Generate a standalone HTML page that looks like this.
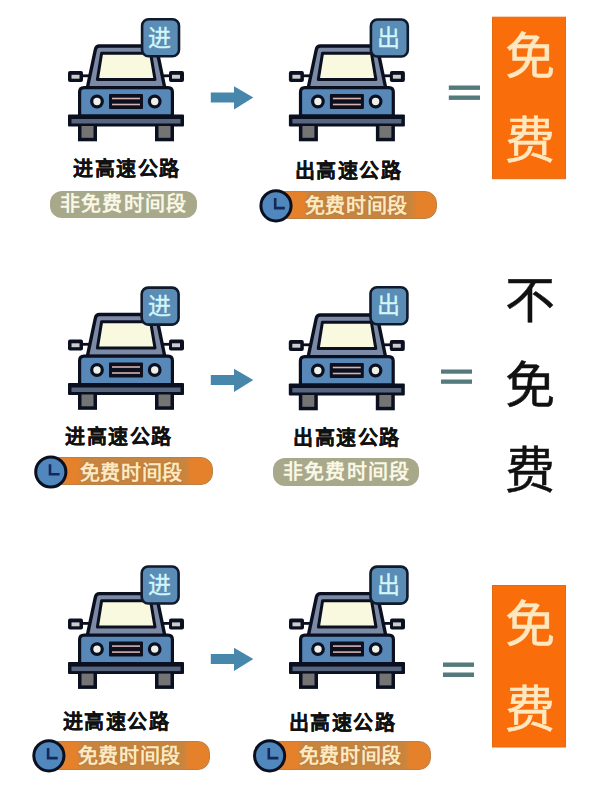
<!DOCTYPE html>
<html lang="zh-CN"><head><meta charset="utf-8">
<style>
html,body{margin:0;padding:0;background:#fff;}
body{width:600px;height:799px;position:relative;overflow:hidden;font-family:"Liberation Sans",sans-serif;}
svg.main{position:absolute;left:0;top:0;}
.t{position:absolute;white-space:nowrap;line-height:1;}
.lbl{font-size:20px;letter-spacing:1.5px;font-weight:bold;color:#111;-webkit-text-stroke:0.2px #111;}
.pill{position:absolute;border-radius:12px;}
.khaki{background:#a8a98a;}
.orange{background:#e1842f;border:1.5px solid #b98147;box-sizing:border-box;}
.ptxt{font-size:20px;font-weight:bold;letter-spacing:0.7px;}
.ptxt.k{letter-spacing:1.2px;}
.ptxt.o{text-shadow:0 0 2px rgba(150,100,60,.6);}
.big{font-size:50px;-webkit-text-stroke:0.5px currentColor;}
</style></head><body>
<svg class="main" width="600" height="799" viewBox="0 0 600 799">
<defs>
<g id="car">
  <!-- mirrors -->
  <line x1="13" y1="57.8" x2="24" y2="57.8" stroke="#0b1020" stroke-width="2.8"/>
  <line x1="92" y1="57.8" x2="103" y2="57.8" stroke="#0b1020" stroke-width="2.8"/>
  <rect x="0" y="53" width="15" height="11" rx="2" fill="#0b1020"/>
  <rect x="3.5" y="56.8" width="8" height="3.9" fill="#cdcdcd"/>
  <rect x="101" y="53" width="15" height="11" rx="2" fill="#0b1020"/>
  <rect x="104" y="56.8" width="8" height="3.9" fill="#cdcdcd"/>
  <!-- cab -->
  <path d="M27.4 31.5 Q28.1 28 31.5 28 L84.5 28 Q88 28 88.8 31.5 L96.8 70 L19.3 70 Z" fill="#7c8aa6" stroke="#0b1020" stroke-width="3.4" stroke-linejoin="round"/>
  <path d="M33.6 35.2 L82.6 35.2 L87 61.5 L29.4 61.5 Z" fill="#f9f9df" stroke="#0b1020" stroke-width="3" stroke-linejoin="round"/>
  <!-- body -->
  <path d="M11.6 98 L11.6 74 Q11.6 69.6 16 69.6 L100 69.6 Q104.4 69.6 104.4 74 L104.4 98 Z" fill="#5888b8" stroke="#0b1020" stroke-width="3.2"/>
  <!-- headlights -->
  <circle cx="29" cy="83.5" r="5.3" fill="#eef0ea" stroke="#0b1020" stroke-width="3.2"/>
  <circle cx="86.7" cy="83.5" r="5.3" fill="#eef0ea" stroke="#0b1020" stroke-width="3.2"/>
  <!-- grille -->
  <rect x="41" y="76" width="34" height="15" rx="1" fill="#0b0f1e"/>
  <line x1="44" y1="80.5" x2="72" y2="80.5" stroke="#d6b2b0" stroke-width="1.6"/>
  <line x1="44" y1="86.5" x2="72" y2="86.5" stroke="#d6b2b0" stroke-width="1.6"/>
  <!-- bumper -->
  <rect x="0" y="96.5" width="116" height="12" rx="1" fill="#0b1020"/>
  <rect x="3.5" y="101" width="109" height="4.5" fill="#586680"/>
  <!-- wheels -->
  <rect x="10" y="108" width="19" height="15.3" fill="#0b1020"/>
  <rect x="13.5" y="108" width="12" height="11.8" fill="#747474"/>
  <rect x="87" y="108" width="19" height="15.3" fill="#0b1020"/>
  <rect x="90.5" y="108" width="12" height="11.8" fill="#747474"/>
</g>
<g id="badge">
  <rect x="1.3" y="1.3" width="36.9" height="37" rx="6.5" fill="#5a8cb5" stroke="#0f1a2c" stroke-width="2.6"/>
</g>
<g id="clock">
  <circle cx="0" cy="0" r="15.1" fill="#5087bd" stroke="#0b1020" stroke-width="3"/>
  <path d="M-0.8 -7.8 L-0.8 2.3 L8.8 2.3" fill="none" stroke="#16275a" stroke-width="2.6"/>
</g>
<g id="arrow">
  <path d="M0 0 L23.2 0 L23.2 -6.2 L42.5 5 L23.2 17 L23.2 10 L0 10 Z" fill="#4887ac"/>
</g>
</defs>
<use href="#car" x="68" y="18"/>
<use href="#car" x="288.9" y="18"/>
<use href="#car" x="68" y="286.5"/>
<use href="#car" x="288.8" y="287"/>
<use href="#car" x="68" y="565.6"/>
<use href="#car" x="289" y="565.6"/>
<use href="#badge" x="140.8" y="18"/>
<use href="#badge" x="369.6" y="18.2"/>
<use href="#badge" x="140.4" y="286.3"/>
<use href="#badge" x="369.2" y="286"/>
<use href="#badge" x="140.4" y="565.2"/>
<use href="#badge" x="369.2" y="565.3"/>
<use href="#arrow" x="210.8" y="92.5"/>
<use href="#arrow" x="210.8" y="375"/>
<use href="#arrow" x="210.8" y="654"/>
<!-- equals -->
<g fill="#557a7d">
<rect x="448.8" y="85.5" width="31.2" height="4.4"/>
<rect x="448.8" y="95.5" width="31.2" height="4.4"/>
<rect x="441" y="369.5" width="31" height="4.2"/>
<rect x="441" y="379.5" width="31" height="4.3"/>
<rect x="443" y="662.5" width="31" height="4.4"/>
<rect x="443" y="672.5" width="31" height="4.5"/>
</g>
<!-- orange boxes -->
<rect x="492.5" y="17.2" width="73" height="161.5" fill="#fa6d0b" stroke="#e46a12" stroke-width="1"/>
<rect x="492.5" y="585.5" width="73" height="161.5" fill="#fa6d0b" stroke="#e46a12" stroke-width="1"/>
</svg>

<!-- pills -->
<div class="pill khaki" style="left:50.2px;top:190.9px;width:146.6px;height:27.3px;"></div>
<div class="pill orange" style="left:270px;top:190.8px;width:166.5px;height:28.5px;background:linear-gradient(90deg,#e5812b 32px,#c8853f 38px,#c8853f 139px,#e5812b 146px);"></div>
<div class="pill orange" style="left:45px;top:457.3px;width:167.7px;height:27.7px;background:linear-gradient(90deg,#e5812b 32px,#c8853f 38px,#c8853f 139px,#e5812b 145px);"></div>
<div class="pill khaki" style="left:272.7px;top:458.3px;width:146px;height:28px;"></div>
<div class="pill orange" style="left:44px;top:740.7px;width:166px;height:29.3px;background:linear-gradient(90deg,#e5812b 31px,#c8853f 37px,#c8853f 138px,#e5812b 144px);"></div>
<div class="pill orange" style="left:264px;top:740.8px;width:166.8px;height:28.9px;background:linear-gradient(90deg,#e5812b 32px,#c8853f 38px,#c8853f 139px,#e5812b 145px);"></div>

<svg class="main" width="600" height="799" viewBox="0 0 600 799">
<use href="#clock" x="276" y="205.8"/>
<use href="#clock" x="50.8" y="472"/>
<use href="#clock" x="48.9" y="755.8"/>
<use href="#clock" x="269.6" y="755.8"/>
</svg>

<!-- badge text -->
<div class="t" style="left:147.5px;top:26.6px;font-size:23px;color:#d2f6fa;-webkit-text-stroke:0.35px #d2f6fa;">进</div>
<div class="t" style="left:377px;top:26.8px;font-size:23px;color:#d2f6fa;-webkit-text-stroke:0.35px #d2f6fa;">出</div>
<div class="t" style="left:148px;top:294.8px;font-size:23px;color:#d2f6fa;-webkit-text-stroke:0.35px #d2f6fa;">进</div>
<div class="t" style="left:377px;top:294.3px;font-size:23px;color:#d2f6fa;-webkit-text-stroke:0.35px #d2f6fa;">出</div>
<div class="t" style="left:148px;top:573.6px;font-size:23px;color:#d2f6fa;-webkit-text-stroke:0.35px #d2f6fa;">进</div>
<div class="t" style="left:377px;top:573.5px;font-size:23px;color:#d2f6fa;-webkit-text-stroke:0.35px #d2f6fa;">出</div>

<!-- labels -->
<div class="t lbl" style="left:73px;top:159px;">进高速公路</div>
<div class="t lbl" style="left:294.5px;top:160.6px;">出高速公路</div>
<div class="t lbl" style="left:65px;top:426.5px;">进高速公路</div>
<div class="t lbl" style="left:293px;top:428px;">出高速公路</div>
<div class="t lbl" style="left:62.5px;top:712px;">进高速公路</div>
<div class="t lbl" style="left:288.5px;top:713px;">出高速公路</div>

<!-- pill text -->
<div class="t ptxt k" style="left:60px;top:193.7px;color:#f9f7e6;">非免费时间段</div>
<div class="t ptxt o" style="left:304.5px;top:196.3px;color:#fde9c0;">免费时间段</div>
<div class="t ptxt o" style="left:79.5px;top:462.5px;color:#fde9c0;">免费时间段</div>
<div class="t ptxt k" style="left:283px;top:462px;color:#f9f7e6;">非免费时间段</div>
<div class="t ptxt o" style="left:77.5px;top:746.3px;color:#fde9c0;">免费时间段</div>
<div class="t ptxt o" style="left:298.5px;top:746.2px;color:#fde9c0;">免费时间段</div>

<!-- big text -->
<div class="t big" style="left:505px;top:32.3px;color:#fee8c0;">免</div>
<div class="t big" style="left:505px;top:116.3px;color:#fee8c0;">费</div>
<div class="t big" style="left:504.5px;top:276.3px;color:#111;">不</div>
<div class="t big" style="left:505px;top:361.3px;color:#111;">免</div>
<div class="t big" style="left:505px;top:445.5px;color:#111;">费</div>
<div class="t big" style="left:505px;top:600px;color:#fee8c0;">免</div>
<div class="t big" style="left:505px;top:685px;color:#fee8c0;">费</div>
</body></html>
